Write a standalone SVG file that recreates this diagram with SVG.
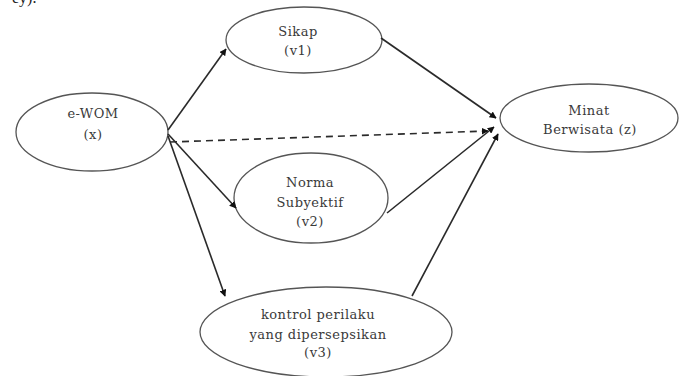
<svg xmlns="http://www.w3.org/2000/svg" width="680" height="376" viewBox="0 0 680 376">
<style>
.node ellipse{fill:#fff;stroke:#555;stroke-width:1.3}
.node text{font-family:"DejaVu Serif","Liberation Serif",serif;font-size:13px;letter-spacing:0.5px;fill:#3a3a3a;text-anchor:middle}
.conn line{stroke:#2a2a2a;stroke-width:1.6;marker-end:url(#ah)}
.conn .dash{stroke-dasharray:7 5}
</style>
<defs>
<marker id="ah" viewBox="0 0 10 10" refX="9" refY="5" markerWidth="7" markerHeight="7" markerUnits="userSpaceOnUse" orient="auto">
<path d="M0,0 L10,5 L0,10 z" fill="#111"/>
</marker>
</defs>
<rect width="680" height="376" fill="#fff"/>
<text x="12" y="3" font-family="Liberation Serif, serif" font-size="16" fill="#222">ey).</text>
<g id="n-ewom" class="node">
<ellipse cx="92" cy="132" rx="76" ry="39"/>
<text x="93" y="118">e-WOM</text>
<text x="93" y="139">(x)</text>
</g>
<g id="n-sikap" class="node">
<ellipse cx="304" cy="40" rx="78" ry="33"/>
<text x="298" y="36">Sikap</text>
<text x="298" y="55">(v1)</text>
</g>
<g id="n-minat" class="node">
<ellipse cx="589" cy="118" rx="89" ry="34"/>
<text x="589" y="115">Minat</text>
<text x="590" y="134">Berwisata (z)</text>
</g>
<g id="n-norma" class="node">
<ellipse cx="311" cy="198" rx="77" ry="45"/>
<text x="310" y="187">Norma</text>
<text x="310" y="207">Subyektif</text>
<text x="310" y="226">(v2)</text>
</g>
<g id="n-kontrol" class="node">
<ellipse cx="326" cy="332" rx="126" ry="45"/>
<text x="318" y="319">kontrol perilaku</text>
<text x="318" y="339">yang dipersepsikan</text>
<text x="318" y="357">(v3)</text>
</g>
<g id="connectors" class="conn">
<line x1="168" y1="130" x2="226" y2="49"/>
<line class="dash" x1="170" y1="142" x2="488" y2="131"/>
<line x1="168" y1="134" x2="236" y2="208"/>
<line x1="168" y1="136" x2="225" y2="296"/>
<line x1="381" y1="38" x2="496" y2="118"/>
<line x1="387" y1="213" x2="494" y2="127"/>
<line x1="412" y1="296" x2="498" y2="134"/>
</g>
</svg>
